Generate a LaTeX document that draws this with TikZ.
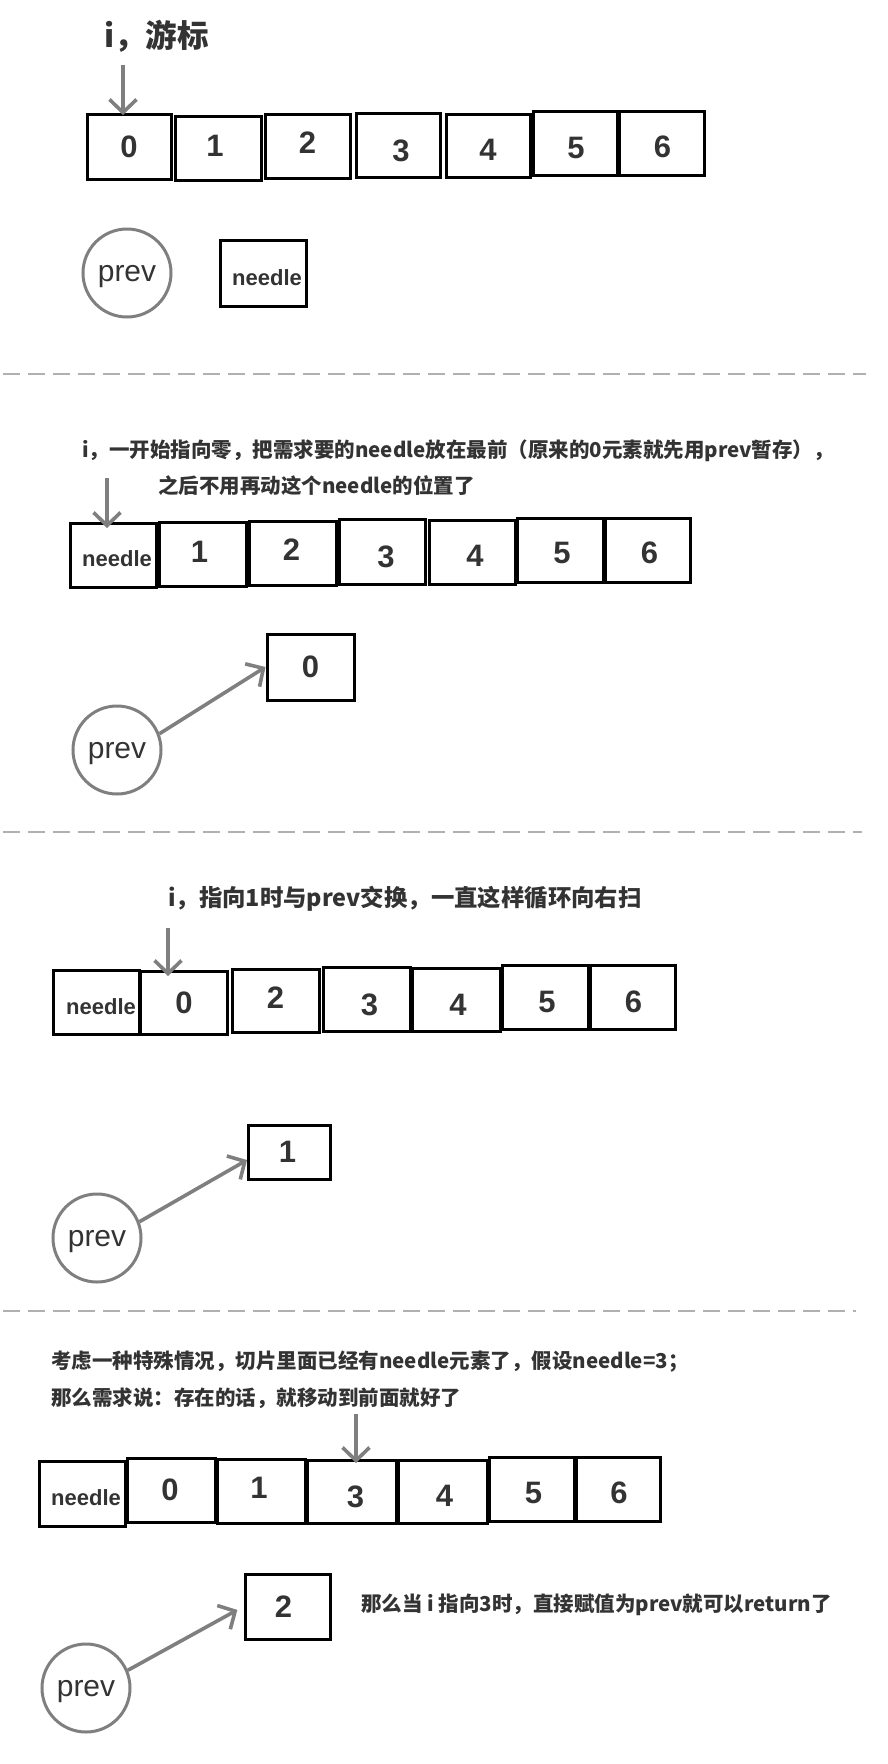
\documentclass[tikz,border=0pt]{standalone}
\usepackage{fontspec}
\setmainfont{Liberation Sans}
\newfontfamily\cjk{Noto Sans CJK SC}
\usetikzlibrary{arrows.meta}
\definecolor{txt}{HTML}{333333}
\definecolor{arr}{HTML}{7F7F7F}
\definecolor{sepgray}{HTML}{B0B0B0}
% name, cx, cy, w, h, text style, text, dx, dy
\newcommand\cellat[9]{%
  \node[cellbox, minimum width={#4pt-2pt}, minimum height={#5pt-2pt}] (#1) at (#2,#3) {};
  \node[#6] (#1t) at ([shift={(#8,#9)}]#1.center) {#7};}
% name, cx, cy
\newcommand\prevat[3]{%
  \node[prevnode] (#1) at (#2,#3) {};
  \node[prevtxt] (#1t) at ([yshift=-4pt]#1.center) {prev};}
\begin{document}
\begin{tikzpicture}[x=1pt,y=-1pt,
  cellbox/.style={draw=black, line width=3pt, inner sep=0pt},
  digit/.style={font=\fontsize{31}{31}\selectfont\bfseries, text=txt, inner sep=0pt},
  ndl/.style={font=\fontsize{22}{22}\selectfont\bfseries, text=txt, inner sep=0pt},
  prevnode/.style={circle, draw=arr, line width=3pt, minimum size=88pt, inner sep=0pt},
  prevtxt/.style={font=\fontsize{30}{30}\selectfont, text=txt, inner sep=0pt},
  ptr/.style={draw=arr, line width=3.6pt, -{Straight Barb[length=13pt,width=27pt]}},
  sepline/.style={draw=sepgray, line width=2pt, dash pattern=on 17pt off 8pt},
  note/.style={font={\cjk\fontsize{20.5}{24}\selectfont\bfseries}, text=txt, anchor=west, inner sep=0pt},
  bignote/.style={note, font={\cjk\fontsize{23.4}{26}\selectfont\bfseries}},
  title/.style={note, font={\cjk\fontsize{31.5}{34}\selectfont\bfseries}}
]
\useasboundingbox (0,0) rectangle (888,1764);

% ---------- section 1 ----------
\node[title] (t1) at (104,36) {i，游标};
\cellat{ra0}{129}{146.5}{86}{67}{digit}{0}{0}{0}
\cellat{ra1}{218}{148}{88}{66}{digit}{1}{-3}{-2}
\cellat{ra2}{307.5}{146}{87}{66}{digit}{2}{0}{-3}
\cellat{ra3}{398}{145}{86}{66}{digit}{3}{3}{6}
\cellat{ra4}{488}{145.5}{86}{65}{digit}{4}{0}{4}
\cellat{ra5}{575}{143}{86}{66}{digit}{5}{1}{5}
\cellat{ra6}{661.5}{143}{87}{66}{digit}{6}{1}{4}
\coordinate (ia0) at (123,65);
\coordinate (ia1) at (123,115);
\draw[ptr] (ia0) -- (ia1);
\prevat{p1}{127}{273}
\cellat{na}{263}{273}{88}{68}{ndl}{needle}{4}{5}

\draw[sepline] (3,374) -- (866,374);

% ---------- section 2 ----------
\node[note] (t2a) at (82,451) {i，一开始指向零，把需求要的needle放在最前（原来的0元素就先用prev暂存），};
\node[note] (t2b) at (158,486) {之后不用再动这个needle的位置了};
\cellat{rb0}{113}{555}{88}{66}{ndl}{needle}{4}{4}
\cellat{rb1}{202.5}{554}{89}{66}{digit}{1}{-3}{-2}
\cellat{rb2}{292.5}{553}{89}{66}{digit}{2}{-1}{-3}
\cellat{rb3}{382}{551.5}{88}{67}{digit}{3}{4}{5}
\cellat{rb4}{472}{552}{88}{66}{digit}{4}{3}{4}
\cellat{rb5}{560}{550}{88}{66}{digit}{5}{2}{3}
\cellat{rb6}{647.5}{550}{87}{66}{digit}{6}{2}{3}
\coordinate (ib0) at (107,478);
\coordinate (ib1) at (107,528);
\draw[ptr] (ib0) -- (ib1);
\cellat{sb}{310.5}{667}{89}{68}{digit}{0}{0}{0}
\prevat{p2}{117}{750}
\draw[ptr] (p2.21) -- (sb.west);

\draw[sepline] (3,832) -- (862,832);

% ---------- section 3 ----------
\node[bignote] (t3) at (168,899) {i，指向1时与prev交换，一直这样循环向右扫};
\cellat{rc0}{96}{1002}{88}{66}{ndl}{needle}{5}{5}
\cellat{rc1}{184}{1002.5}{89}{65}{digit}{0}{0}{0}
\cellat{rc2}{275.5}{1000.5}{89}{65}{digit}{2}{0}{-3}
\cellat{rc3}{366.5}{999}{89}{66}{digit}{3}{3}{6}
\cellat{rc4}{456}{999.5}{90}{65}{digit}{4}{2}{5}
\cellat{rc5}{545}{997}{88}{66}{digit}{5}{2}{5}
\cellat{rc6}{632.5}{997}{87}{66}{digit}{6}{1}{5}
\coordinate (ic0) at (168,928);
\coordinate (ic1) at (168,976);
\draw[ptr] (ic0) -- (ic1);
\cellat{sc}{289.5}{1152}{84}{56}{digit}{1}{-2}{0}
\prevat{p3}{97}{1238}
\draw[ptr] (p3.21) -- ([yshift=-8pt]sc.west);

\draw[sepline] (3,1311) -- (856,1311);

% ---------- section 4 ----------
\node[note] (t4a) at (51,1362) {考虑一种特殊情况，切片里面已经有needle元素了，假设needle=3；};
\node[note] (t4b) at (51,1398) {那么需求说：存在的话，就移动到前面就好了};
\cellat{rd0}{82}{1493.5}{88}{67}{ndl}{needle}{4}{4}
\cellat{rd1}{171}{1490}{90}{66}{digit}{0}{-1}{0}
\cellat{rd2}{261}{1491}{90}{66}{digit}{1}{-2}{-3}
\cellat{rd3}{351.5}{1491.5}{91}{65}{digit}{3}{4}{5}
\cellat{rd4}{442.5}{1491.5}{91}{65}{digit}{4}{2}{4}
\cellat{rd5}{531.5}{1489}{87}{66}{digit}{5}{2}{4}
\cellat{rd6}{618}{1489}{86}{66}{digit}{6}{1}{4}
\coordinate (id0) at (356,1414);
\coordinate (id1) at (356,1463);
\draw[ptr] (id0) -- (id1);
\cellat{sd}{287.5}{1606.5}{87}{67}{digit}{2}{-4}{0}
\node[note] (t4c) at (361,1605) {那么当 i 指向3时，直接赋值为prev就可以return了};
\prevat{p4}{86}{1688}
\draw[ptr, shorten >=7pt] (p4.23) -- (sd.west);
\end{tikzpicture}
\end{document}
